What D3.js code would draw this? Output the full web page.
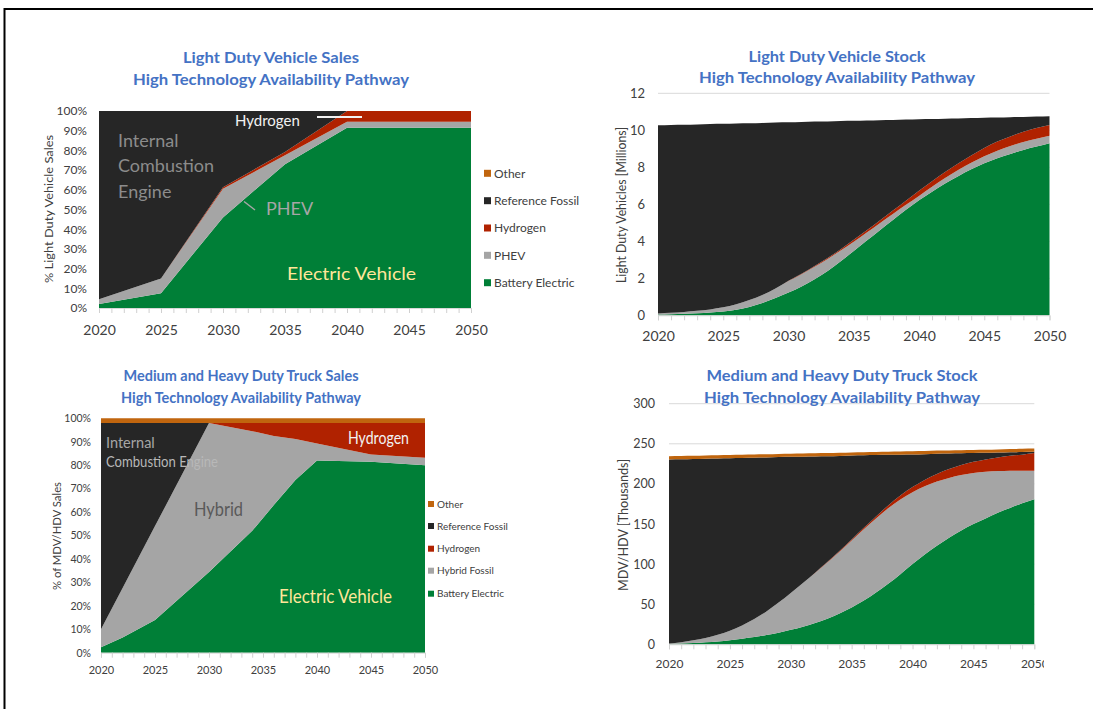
<!DOCTYPE html>
<html><head><meta charset="utf-8">
<script src="https://cdn.jsdelivr.net/npm/d3@7"></script>
<style>
html,body{margin:0;padding:0;background:#fff;}
svg{display:block;font-family:Lato,"Open Sans",sans-serif;}
</style></head>
<body>
<svg id="c" width="1093" height="709"></svg>
<script>
// ---------- DATA ----------
const tickYears = [2020, 2025, 2030, 2035, 2040, 2045, 2050];

// Light duty vehicle sales (%)
const ldvSalesYears = [2020, 2025, 2030, 2035, 2040, 2045, 2050];
const ldvSalesBEV    = [2, 7.5, 46, 73, 91.5, 91.5, 91.5];
const ldvSalesPHEV   = [2.5, 7.5, 14.5, 4.5, 3, 3, 3];
const ldvSalesH2     = [0, 0, 0.8, 1.7, 5.5, 5.5, 5.5];
const ldvSalesFossil = [95.5, 85, 38.7, 20.8, 0, 0, 0];
const ldvSalesOther  = [0, 0, 0, 0, 0, 0, 0];

// Light duty vehicle stock (millions)
const ldvStockYears = d3.range(2020, 2051);
const ldvStockBEV = [0.04,0.06,0.08,0.11,0.15,0.2,0.3,0.45,0.66,0.93,1.23,1.56,1.95,2.4,2.92,3.48,4.04,4.6,5.15,5.7,6.22,6.68,7.12,7.52,7.89,8.22,8.49,8.72,8.94,9.12,9.3];
const ldvStockPHEV = [0.06,0.08,0.10,0.13,0.17,0.23,0.30,0.38,0.44,0.52,0.62,0.66,0.68,0.65,0.58,0.50,0.44,0.38,0.33,0.27,0.23,0.27,0.30,0.33,0.35,0.38,0.41,0.43,0.43,0.43,0.41];
const ldvStockH2 = [0,0,0,0,0,0,0,0,0,0,0.02,0.03,0.04,0.05,0.07,0.10,0.12,0.15,0.18,0.22,0.28,0.30,0.33,0.36,0.40,0.45,0.49,0.52,0.55,0.57,0.58];
const ldvStockFossil = [10.17,10.15,10.12,10.08,10.02,9.92,9.77,9.55,9.30,8.97,8.56,8.20,7.80,7.38,6.93,6.43,5.93,5.42,4.90,4.39,3.87,3.36,2.88,2.43,2.02,1.63,1.30,1.04,0.80,0.62,0.47];
const ldvStockOther = ldvStockYears.map(() => 0);

// Medium/heavy duty truck sales (%)
const mhdSalesYears  = [2020, 2022, 2025, 2030, 2034, 2036, 2038, 2040, 2045, 2050];
const mhdSalesBEV    = [2.3, 6.5, 14, 34.4, 52, 63, 73.7, 82, 81.5, 80];
const mhdSalesHybrid = [7.7, 21.1, 40, 63.6, 42.5, 29.4, 17.5, 7.3, 3.1, 3.2];
const mhdSalesH2     = [0, 0, 0, 0, 3.5, 5.6, 6.8, 8.7, 13.4, 14.8];
const mhdSalesFossil = [88, 70.4, 44, 0, 0, 0, 0, 0, 0, 0];
const mhdSalesOther  = [2, 2, 2, 2, 2, 2, 2, 2, 2, 2];

// Medium/heavy duty truck stock (thousands)
const mhdStockYears = d3.range(2020, 2051);
const mhdStockBEV = [0.5,1,1.5,2.5,3.5,5,7,9,11.5,14.5,18,22,26.5,32,38.5,46,54.5,64.5,75.5,87.5,100,112,123,133,142,150,157,164,170,176,181];
const mhdStockHybrid = [0.5,1.5,3.5,5.5,8.5,12,16.5,22.5,29.5,37.5,46,54.5,62.5,70,77,83.5,89,92.5,94,93,89.5,85,80,74.5,69,63.5,58,52,46.5,40.5,35.5];
const mhdStockH2 = [0,0,0,0,0,0,0,0,0,0,0,0,0.3,0.5,0.8,1.2,1.7,2.5,3.6,5,6.5,8,9.5,11,12.5,14,15.5,17,18.5,20,22];
const mhdStockFossil = [229.5,228.3,226.1,223.5,219.8,215.1,208.9,201.2,192.0,181.4,169.7,157.5,145.0,132.1,118.6,104.6,90.4,76.4,63.1,51.0,40.8,32.1,25.0,19.3,14.6,10.9,8.2,6.0,4.4,3.2,1.5];
const mhdStockOther = mhdStockYears.map(() => 4);

const legendLDV = ["Other", "Reference Fossil", "Hydrogen", "PHEV", "Battery Electric"];
const legendMHD = ["Other", "Reference Fossil", "Hydrogen", "Hybrid Fossil", "Battery Electric"];

// ---------- STYLE ----------
const keys = ["bev", "mid", "h2", "fossil", "other"];
const colors = {bev: "#007f37", mid: "#a5a5a5", h2: "#b02200", fossil: "#262626", other: "#c0650e"};
const legendColors = [colors.other, colors.fossil, colors.h2, colors.mid, colors.bev];
const titleColor = "#4472c4";
const textColor = "#404040";

const svg = d3.select("#c");
svg.append("rect").attr("x", 4.5).attr("y", 9).attr("width", 1100).attr("height", 720)
  .attr("fill", "none").attr("stroke", "#000").attr("stroke-width", 2);

function rows(years, bev, mid, h2, fossil, other) {
  return years.map((y, i) => ({year: y, bev: bev[i], mid: mid[i], h2: h2[i], fossil: fossil[i], other: other[i]}));
}

function panel(cfg) {
  const g = svg.append("g");
  const x = d3.scaleLinear().domain([2020, 2050]).range([cfg.x0, cfg.x1]);
  const y = d3.scaleLinear().domain([0, cfg.max]).range([cfg.yb, cfg.yt]);

  if (cfg.grid) {
    g.append("g").selectAll("line").data(cfg.yticks).join("line")
      .attr("x1", cfg.x0).attr("x2", cfg.x1)
      .attr("y1", d => y(d)).attr("y2", d => y(d))
      .attr("stroke", "#d9d9d9").attr("stroke-width", 1);
  }

  const stack = d3.stack().keys(keys)(cfg.data);
  const area = d3.area().x(d => x(d.data.year)).y0(d => y(d[0])).y1(d => y(d[1]))
    .curve(cfg.smooth ? d3.curveMonotoneX : d3.curveLinear);
  g.append("g").selectAll("path").data(stack).join("path")
    .attr("d", area).attr("fill", d => colors[d.key]).attr("stroke", "none");

  const minor = d3.axisBottom(x).tickValues(d3.range(2020, 2051)).tickSize(5).tickFormat("");
  const gm = g.append("g").attr("transform", `translate(0,${cfg.yb})`).call(minor);
  gm.select(".domain").attr("stroke", "#d9d9d9");
  gm.selectAll(".tick line").attr("stroke", "#d0d0d0");

  const xa = d3.axisBottom(x).tickValues(tickYears).tickSize(0).tickFormat(d3.format("d"));
  const gx = g.append("g").attr("transform", `translate(0,${cfg.xLabelY})`).call(xa);
  gx.select(".domain").remove();
  gx.selectAll("text").attr("fill", textColor).attr("font-size", cfg.xFont).attr("dy", "0.35em").attr("y", 0)
    .attr("font-family", "Lato, sans-serif");
  if (cfg.clipX) gx.attr("clip-path", `url(#${cfg.clipX})`);

  const ya = d3.axisLeft(y).tickValues(cfg.yticks).tickSize(0).tickFormat(cfg.yfmt);
  const gy = g.append("g").attr("transform", `translate(${cfg.yLabelX},0)`).call(ya);
  gy.select(".domain").remove();
  gy.selectAll("text").attr("fill", textColor).attr("font-size", cfg.yFont).attr("x", 0)
    .attr("font-family", "Lato, sans-serif");

  g.append("text").attr("transform", `translate(${cfg.ytX},${cfg.ytY}) rotate(-90)`)
    .attr("text-anchor", "middle").attr("dy", "0.35em").attr("fill", textColor)
    .attr("font-size", cfg.ytFont).attr("textLength", cfg.ytLen).attr("lengthAdjust", "spacingAndGlyphs")
    .text(cfg.ytitle);

  cfg.titles.forEach((t, i) => {
    g.append("text").attr("x", cfg.tX).attr("y", cfg.tY[i]).attr("dy", "0.35em")
      .attr("text-anchor", "middle").attr("fill", titleColor).attr("font-weight", "bold")
      .attr("font-size", 15).attr("textLength", cfg.tLen[i]).attr("lengthAdjust", "spacingAndGlyphs")
      .text(t);
  });

  if (cfg.legend) {
    const L = cfg.legend;
    const lg = g.append("g");
    L.labels.forEach((lab, i) => {
      lg.append("rect").attr("x", L.x).attr("y", L.ys[i] - L.sq / 2).attr("width", L.sq).attr("height", L.sq)
        .attr("fill", legendColors[i]);
      lg.append("text").attr("x", L.x + L.sq + 3).attr("y", L.ys[i]).attr("dy", "0.35em")
        .attr("fill", textColor).attr("font-size", L.font).text(lab);
    });
  }
  return {g, x, y};
}

svg.append("defs").append("clipPath").attr("id", "clip4").append("rect")
  .attr("x", 600).attr("y", -20).attr("width", 444).attr("height", 40);

// Panel 1
const p1 = panel({
  data: rows(ldvSalesYears, ldvSalesBEV, ldvSalesPHEV, ldvSalesH2, ldvSalesFossil, ldvSalesOther),
  x0: 99, x1: 471, yb: 308, yt: 111, max: 100, smooth: false, grid: false,
  yticks: d3.range(0, 101, 10), yfmt: d => d + "%", yLabelX: 87, yFont: 12,
  xLabelY: 330, xFont: 14,
  ytitle: "% Light Duty Vehicle Sales", ytX: 49, ytY: 209, ytFont: 12, ytLen: 148,
  titles: ["Light Duty Vehicle Sales", "High Technology Availability Pathway"], tX: 271, tY: [57.7, 79.3], tLen: [176, 276],
  legend: {labels: legendLDV, x: 484, ys: [173.3, 200.7, 228, 255.3, 282.7], sq: 7, font: 12}
});
const a1 = p1.g.append("g");
[["Internal", 140.7], ["Combustion", 166], ["Engine", 191.7]].forEach(([t, yy]) => {
  a1.append("text").attr("x", 118).attr("y", yy).attr("dy", "0.35em").attr("fill", "#8c8c8c").attr("font-size", 18).text(t);
});
a1.append("text").attr("x", 235).attr("y", 121).attr("dy", "0.35em").attr("fill", "#f2f2f2").attr("font-size", 15).text("Hydrogen");
a1.append("line").attr("x1", 317).attr("x2", 362).attr("y1", 117).attr("y2", 117).attr("stroke", "#f2f2f2").attr("stroke-width", 2);
a1.append("text").attr("x", 266).attr("y", 209).attr("dy", "0.35em").attr("fill", "#a6a6a6").attr("font-size", 18).text("PHEV");
a1.append("line").attr("x1", 244).attr("y1", 201.5).attr("x2", 255).attr("y2", 210).attr("stroke", "#a6a6a6").attr("stroke-width", 1.5);
a1.append("text").attr("x", 287).attr("y", 274).attr("dy", "0.35em").attr("fill", "#ffe699").attr("font-size", 18)
  .attr("textLength", 129).attr("lengthAdjust", "spacingAndGlyphs").text("Electric Vehicle");

// Panel 2
panel({
  data: rows(ldvStockYears, ldvStockBEV, ldvStockPHEV, ldvStockH2, ldvStockFossil, ldvStockOther),
  x0: 658, x1: 1049.5, yb: 315.3, yt: 93.3, max: 12, smooth: true, grid: true,
  yticks: d3.range(0, 13, 2), yfmt: d3.format("d"), yLabelX: 645, yFont: 13,
  xLabelY: 336, xFont: 14,
  ytitle: "Light Duty Vehicles [Millions]", ytX: 621, ytY: 205, ytFont: 13, ytLen: 156,
  titles: ["Light Duty Vehicle Stock", "High Technology Availability Pathway"], tX: 837, tY: [56.7, 77.7], tLen: [177, 276]
});

// Panel 3
const p3 = panel({
  data: rows(mhdSalesYears, mhdSalesBEV, mhdSalesHybrid, mhdSalesH2, mhdSalesFossil, mhdSalesOther),
  x0: 101, x1: 425, yb: 652.7, yt: 418.3, max: 100, smooth: false, grid: false,
  yticks: d3.range(0, 101, 10), yfmt: d => d + "%", yLabelX: 91, yFont: 10.5,
  xLabelY: 670, xFont: 11,
  ytitle: "% of MDV/HDV Sales", ytX: 57, ytY: 536, ytFont: 11, ytLen: 108,
  titles: ["Medium and Heavy Duty Truck Sales", "High Technology Availability Pathway"], tX: 241, tY: [375.7, 397.7], tLen: [235, 240],
  legend: {labels: legendMHD, x: 428, ys: [504, 526, 548.7, 570.7, 593.7], sq: 6, font: 10}
});
const a3 = p3.g.append("g");
a3.append("text").attr("x", 106).attr("y", 442.7).attr("dy", "0.35em").attr("fill", "#a6a6a6").attr("font-size", 14.5).text("Internal");
a3.append("text").attr("x", 106).attr("y", 462).attr("dy", "0.35em").attr("fill", "#b8b8b8").attr("font-size", 14.5)
  .attr("textLength", 112).attr("lengthAdjust", "spacingAndGlyphs").text("Combustion Engine");
a3.append("text").attr("x", 194).attr("y", 509).attr("dy", "0.35em").attr("fill", "#595959").attr("font-size", 19)
  .attr("textLength", 49).attr("lengthAdjust", "spacingAndGlyphs").text("Hybrid");
a3.append("text").attr("x", 348).attr("y", 438).attr("dy", "0.35em").attr("fill", "#f2f2f2").attr("font-size", 16.5)
  .attr("textLength", 61).attr("lengthAdjust", "spacingAndGlyphs").text("Hydrogen");
a3.append("text").attr("x", 279).attr("y", 596).attr("dy", "0.35em").attr("fill", "#ffe699").attr("font-size", 19)
  .attr("textLength", 113).attr("lengthAdjust", "spacingAndGlyphs").text("Electric Vehicle");

// Panel 4
panel({
  data: rows(mhdStockYears, mhdStockBEV, mhdStockHybrid, mhdStockH2, mhdStockFossil, mhdStockOther),
  x0: 669, x1: 1034.3, yb: 644.3, yt: 403.7, max: 300, smooth: true, grid: true,
  yticks: d3.range(0, 301, 50), yfmt: d3.format("d"), yLabelX: 655, yFont: 12.5,
  xLabelY: 663.5, xFont: 12, clipX: "clip4",
  ytitle: "MDV/HDV [Thousands]", ytX: 623, ytY: 525, ytFont: 13, ytLen: 132,
  titles: ["Medium and Heavy Duty Truck Stock", "High Technology Availability Pathway"], tX: 842, tY: [375.7, 397.7], tLen: [271, 276]
});
</script>
</body></html>
